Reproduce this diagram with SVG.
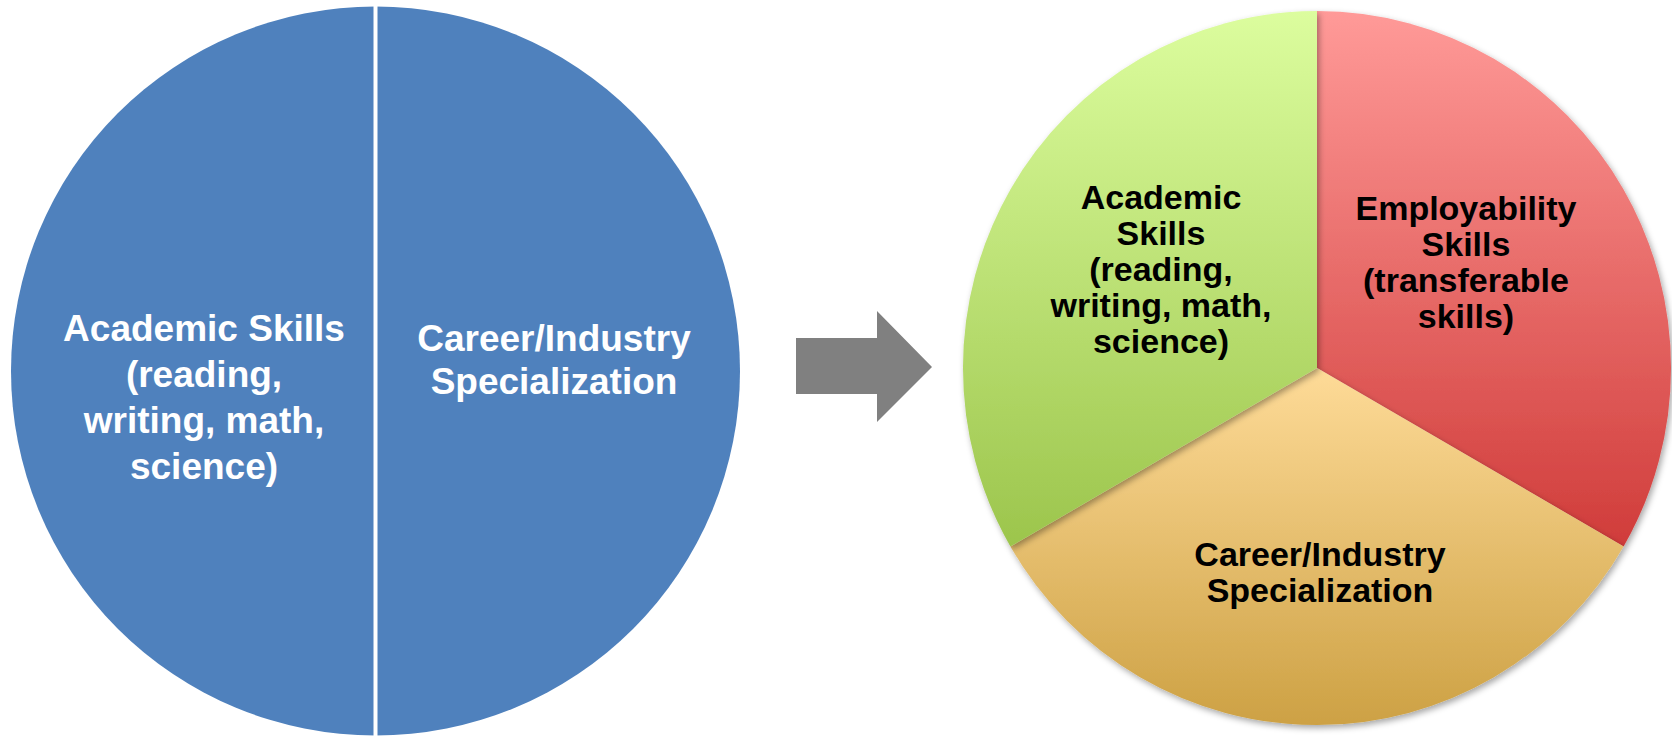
<svg xmlns="http://www.w3.org/2000/svg" width="1672" height="737" viewBox="0 0 1672 737">
<style>
.lt{font-family:"Liberation Sans",Arial,sans-serif;font-weight:bold;font-size:37px;fill:#ffffff;text-anchor:middle}
.rt{font-family:"Liberation Sans",Arial,sans-serif;font-weight:bold;font-size:34px;fill:#000000;text-anchor:middle}
</style>
<defs>
<linearGradient id="gGreen" x1="0" y1="0" x2="0" y2="1"><stop offset="0" stop-color="#dcfd9e"/><stop offset="1" stop-color="#9cc54c"/></linearGradient>
<linearGradient id="gRed" x1="0" y1="0" x2="0" y2="1"><stop offset="0" stop-color="#ff9a98"/><stop offset="1" stop-color="#d03c3a"/></linearGradient>
<linearGradient id="gYellow" x1="0" y1="0" x2="0" y2="1"><stop offset="0" stop-color="#fedb98"/><stop offset="1" stop-color="#cda144"/></linearGradient>
<filter id="sh" x="-10%" y="-10%" width="120%" height="120%"><feDropShadow dx="2" dy="3" stdDeviation="3" flood-color="#000000" flood-opacity="0.35"/></filter>
</defs>
<g id="left-pie">
<circle cx="375.5" cy="371" r="364.5" fill="#4f81bd"/>
<rect x="373.5" y="0" width="4" height="737" fill="#ffffff"/>
</g>
<g id="left-academic">
<text class="lt" x="204" y="341">Academic Skills</text>
<text class="lt" x="204" y="387">(reading,</text>
<text class="lt" x="204" y="433">writing, math,</text>
<text class="lt" x="204" y="479">science)</text>
</g>
<g id="left-career">
<text class="lt" x="554" y="351">Career/Industry</text>
<text class="lt" x="554" y="394">Specialization</text>
</g>
<g id="connectors">
<polygon points="796,338 877,338 877,311 932,367 877,422 877,394 796,394" fill="#808080"/>
</g>
<g id="slice-employability">
<path d="M1317,368 L1317,11 A354,357 0 0 1 1623.6,546.5 Z" fill="url(#gRed)" filter="url(#sh)"/>
<text class="rt" x="1466" y="220">Employability</text>
<text class="rt" x="1466" y="256">Skills</text>
<text class="rt" x="1466" y="292">(transferable</text>
<text class="rt" x="1466" y="328">skills)</text>
</g>
<g id="slice-career">
<path d="M1317,368 L1623.6,546.5 A354,357 0 0 1 1010.4,546.5 Z" fill="url(#gYellow)" filter="url(#sh)"/>
<text class="rt" x="1320" y="566">Career/Industry</text>
<text class="rt" x="1320" y="602">Specialization</text>
</g>
<g id="slice-academic">
<path d="M1317,368 L1317,11 A354,357 0 0 0 1010.4,546.5 Z" fill="url(#gGreen)" filter="url(#sh)"/>
<text class="rt" x="1161" y="209">Academic</text>
<text class="rt" x="1161" y="245">Skills</text>
<text class="rt" x="1161" y="281">(reading,</text>
<text class="rt" x="1161" y="317">writing, math,</text>
<text class="rt" x="1161" y="353">science)</text>
</g>
</svg>
